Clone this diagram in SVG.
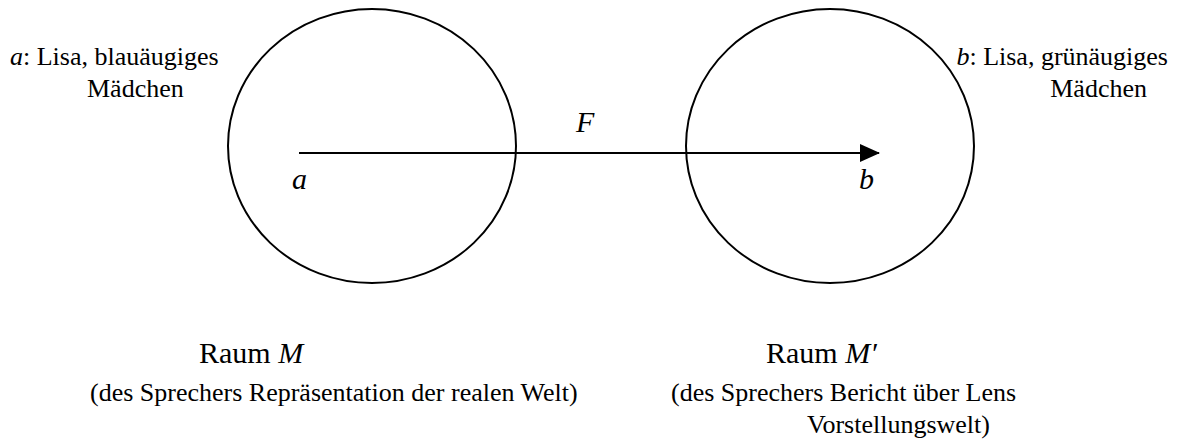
<svg xmlns="http://www.w3.org/2000/svg" width="1179" height="441" viewBox="0 0 1179 441">
<style>
text{font-family:"Liberation Serif","Times New Roman",serif;font-size:26px;fill:#000}
.i{font-style:italic}
.big{font-size:30px}
.space{fill:none;stroke:#000;stroke-width:2}
.conn{stroke:#000;stroke-width:2;fill:none}
</style>
<defs>
<marker id="ah" markerWidth="20" markerHeight="18" refX="19" refY="9" orient="auto" markerUnits="userSpaceOnUse" viewBox="0 0 20 18">
<path d="M0,0 L20,9 L0,18 Z" fill="#000"/>
</marker>
</defs>
<rect width="1179" height="441" fill="#fff"/>
<g id="spaceM">
<ellipse class="space" cx="372" cy="146" rx="144" ry="137"/>
<text x="199" y="363" class="big">Raum <tspan class="i">M</tspan></text>
<text x="90" y="401">(des Sprechers Repräsentation der realen Welt)</text>
</g>
<g id="spaceM2">
<ellipse class="space" cx="830" cy="146" rx="144" ry="137"/>
<text x="766" y="363" class="big">Raum <tspan class="i">M′</tspan></text>
<text x="671" y="401">(des Sprechers Bericht über Lens</text>
<text x="807" y="433">Vorstellungswelt)</text>
</g>
<g id="nodeA">
<text x="292" y="189" class="i big">a</text>
<text x="10" y="65"><tspan class="i">a</tspan>: Lisa, blauäugiges</text>
<text x="87" y="97">Mädchen</text>
</g>
<g id="nodeB">
<text x="859" y="189" class="i big">b</text>
<text x="1168" y="65" text-anchor="end"><tspan class="i">b</tspan>: Lisa, grünäugiges</text>
<text x="1147" y="97" text-anchor="end">Mädchen</text>
</g>
<g id="connectors">
<line class="conn" x1="299" y1="153" x2="879" y2="153" marker-end="url(#ah)"/>
<text x="576" y="132" class="i big">F</text>
</g>
</svg>
